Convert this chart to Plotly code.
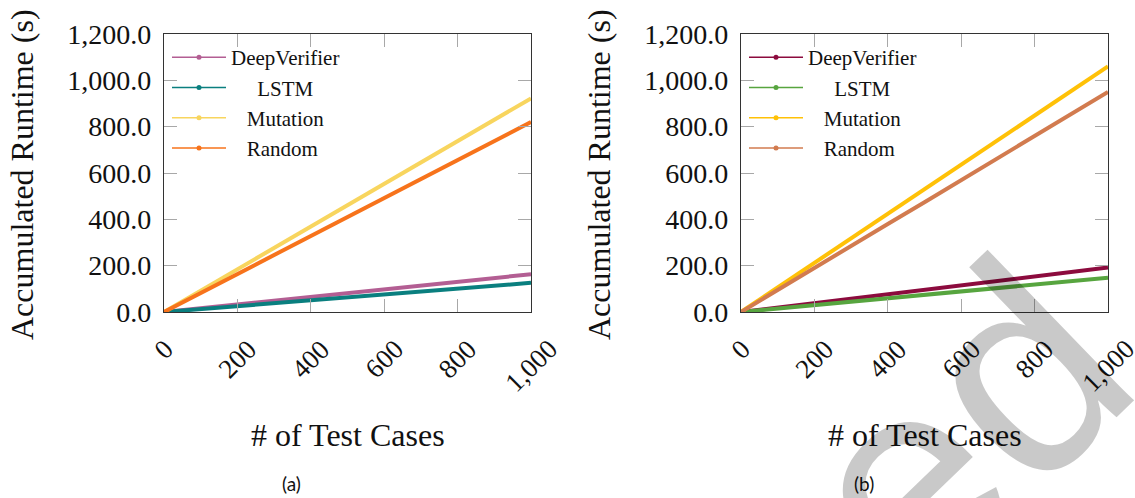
import plotly.graph_objects as go

W, H = 1135, 498

test_cases = [0, 100, 200, 300, 400, 500, 600, 700, 800, 900, 1000]
series_names = ["DeepVerifier", "LSTM", "Mutation", "Random"]

# panel (a)
a_deepverifier = [0, 16, 33, 49, 65, 82, 98, 114, 131, 147, 163]
a_lstm = [0, 12.5, 25, 38, 50, 63, 76, 88, 101, 113, 126]
a_mutation = [0, 92, 185, 277, 369, 461, 553, 645, 738, 830, 922]
a_random = [0, 82, 164, 246, 328, 410, 492, 574, 656, 738, 820]

# panel (b)
b_deepverifier = [0, 19, 38, 58, 77, 96, 115, 134, 154, 173, 192]
b_lstm = [0, 15, 30, 44, 59, 74, 89, 104, 118, 133, 148]
b_mutation = [0, 106, 212, 318, 424, 530, 636, 742, 848, 954, 1060]
b_random = [0, 96, 191, 286, 380, 474, 569, 664, 759, 855, 950]

x_ticks = [0, 200, 400, 600, 800, 1000]
x_tick_labels = ["0", "200", "400", "600", "800", "1,000"]
y_ticks = [0, 200, 400, 600, 800, 1000, 1200]

a_colors = ["#b35e93", "#0a7f7f", "#f8d55e", "#f7731b"]
b_colors = ["#8c0b3e", "#57a53f", "#ffc107", "#d27b4f"]

# legend label padding (to center labels as in reference)
legend_labels = ["DeepVerifier", "\u00a0" * 5 + "LSTM", "\u00a0" * 3 + "Mutation", "\u00a0" * 3 + "Random"]

SERIF = "Liberation Serif, Times New Roman, serif"

def px(x):
    return x / W

def py(y):
    return 1 - y / H

fig = go.Figure()

panels = [
    ("x", "y", "legend", [a_deepverifier, a_lstm, a_mutation, a_random], a_colors),
    ("x2", "y2", "legend2", [b_deepverifier, b_lstm, b_mutation, b_random], b_colors),
]

for xa, ya, leg, data, colors in panels:
    for name, lab, vals, col in zip(series_names, legend_labels, data, colors):
        fig.add_trace(go.Scatter(
            x=test_cases, y=vals, mode="lines", name=name,
            line=dict(color=col, width=4), xaxis=xa, yaxis=ya,
            showlegend=False, hoverinfo="skip"))
    for name, lab, vals, col in zip(series_names, legend_labels, data, colors):
        fig.add_trace(go.Scatter(
            x=[None], y=[None], mode="lines+markers", name=lab,
            line=dict(color=col, width=1.5), marker=dict(color=col, size=5),
            xaxis=xa, yaxis=ya, legend=leg, showlegend=True))

axis_common = dict(
    showline=True, linecolor="#333333", linewidth=1.3, mirror="ticks",
    ticks="inside", ticklen=13, tickcolor="#a8a8a8", tickwidth=1.2,
    showgrid=False, zeroline=False, automargin=False,
)

x_dom_a = [px(164), px(531)]
x_dom_b = [px(741), px(1108)]
y_dom = [py(312), py(34)]

for key, dom, anchor in [("xaxis", x_dom_a, "y"), ("xaxis2", x_dom_b, "y2")]:
    fig.layout[key] = dict(domain=dom, anchor=anchor, range=[0, 1000],
                           tickvals=x_ticks, showticklabels=False, **axis_common)
for key, anchor in [("yaxis", "x"), ("yaxis2", "x2")]:
    fig.layout[key] = dict(domain=y_dom, anchor=anchor, range=[0, 1200],
                           tickvals=y_ticks, tickformat=",.1f",
                           ticklabelstandoff=6,
                           tickfont=dict(family=SERIF, size=28, color="#111111"),
                           **axis_common)

annotations = []
# rotated x tick labels
for xr in ["x", "x2"]:
    for v, t in zip(x_ticks, x_tick_labels):
        annotations.append(dict(
            x=v, xref=xr, y=py(331), yref="paper", text=t, showarrow=False,
            textangle=-45, xanchor="center", yanchor="top",
            font=dict(family=SERIF, size=27, color="#111111")))

# axis titles
for cx in [(164 + 531) / 2, (741 + 1108) / 2]:
    annotations.append(dict(
        x=px(cx), y=py(435), xref="paper", yref="paper", text="# of Test Cases",
        showarrow=False, xanchor="center", yanchor="middle",
        font=dict(family=SERIF, size=32, color="#111111")))
for cx in [22, 599]:
    annotations.append(dict(
        x=px(cx), y=py(175), xref="paper", yref="paper",
        text="Accumulated Runtime (s)", showarrow=False, textangle=-90,
        xanchor="center", yanchor="middle",
        font=dict(family=SERIF, size=32, color="#111111")))
# captions
for cx, cap in [(291, "(a)"), (864, "(b)")]:
    annotations.append(dict(
        x=px(cx), y=py(483), xref="paper", yref="paper", text=cap,
        showarrow=False, xanchor="center", yanchor="middle",
        font=dict(family="Lato", size=19, color="#111111")))
# watermark fragment
annotations.append(dict(
    x=px(932), y=py(455), xref="paper", yref="paper", text="ted",
    showarrow=False, textangle=-44, xanchor="center", yanchor="middle",
    font=dict(family="Liberation Sans", size=290, color="rgba(0,0,0,0.21)")))

legend_common = dict(
    bgcolor="rgba(0,0,0,0)", borderwidth=0, xanchor="left", yanchor="top",
    font=dict(family=SERIF, size=21, color="#111111"), itemwidth=54,
    tracegroupgap=0, itemclick=False, itemdoubleclick=False,
)

fig.update_layout(
    width=W, height=H, margin=dict(l=0, r=0, t=0, b=0, autoexpand=False),
    paper_bgcolor="white", plot_bgcolor="white",
    annotations=annotations,
    legend=dict(x=px(167), y=py(37), **legend_common),
    legend2=dict(x=px(744), y=py(37), **legend_common),
)

fig.write_html("out.html", config={"displayModeBar": False},
               post_script="document.body.style.margin='0px';document.body.style.overflow='hidden';")
